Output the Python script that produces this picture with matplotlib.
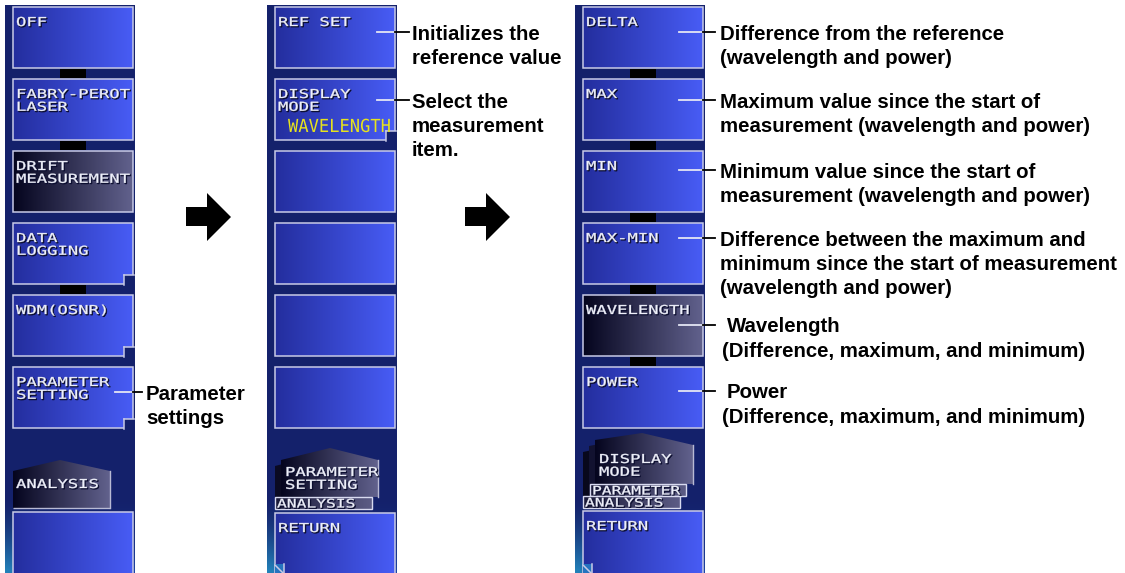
import numpy as np
import matplotlib.pyplot as plt
from matplotlib.patches import Rectangle, Polygon, PathPatch
from matplotlib.textpath import TextPath
from matplotlib.font_manager import FontProperties
from matplotlib.transforms import Affine2D

# soft keys of the three menu screens (top to bottom)
left_keys = ["OFF", "FABRY-PEROT\nLASER", "DRIFT\nMEASUREMENT", "DATA\nLOGGING", "WDM(OSNR)", "PARAMETER\nSETTING"]
mid_keys = ["REF SET", "DISPLAY\nMODE", "", "", "", ""]
right_keys = ["DELTA", "MAX", "MIN", "MAX-MIN", "WAVELENGTH", "POWER"]
mid_value = "WAVELENGTH"          # yellow value shown on the DISPLAY MODE key

# bottom of each screen
left_tabs = ["ANALYSIS"]
mid_tabs = ["PARAMETER\nSETTING", "ANALYSIS"]
right_tabs = ["DISPLAY\nMODE", "PARAMETER", "ANALYSIS"]
return_key = "RETURN"

# explanations: key index -> text lines
left_notes = {5: ["Parameter", "settings"]}
mid_notes = {0: ["Initializes the", "reference value"],
             1: ["Select the", "measurement", "item."]}
right_notes = {0: ["Difference from the reference", "(wavelength and power)"],
               1: ["Maximum value since the start of", "measurement (wavelength and power)"],
               2: ["Minimum value since the start of", "measurement (wavelength and power)"],
               3: ["Difference between the maximum and",
                   "minimum since the start of measurement",
                   "(wavelength and power)"],
               4: ["Wavelength", "(Difference, maximum, and minimum)"],
               5: ["Power", "(Difference, maximum, and minimum)"]}

# ---- layout / style ----
PANEL_X = [5, 267, 575]
PANEL_W = 130
KEY_DX, KEY_W, KEY_H = 8, 120, 61
KEY_TOP0, KEY_PITCH = 7, 72
NAVY = (0.08, 0.13, 0.42)
BLUE_L, BLUE_R = (0.14, 0.18, 0.62), (0.28, 0.36, 0.96)
DARK_L, DARK_R = (0.02, 0.02, 0.12), (0.38, 0.38, 0.55)
EDGE = "#c8cae6"
MONO = FontProperties(family="DejaVu Sans Mono")
NOTE_FONT = dict(family=["Liberation Sans", "DejaVu Sans"], fontsize=14.7, fontweight="bold", color="black")


def gradient(ax, x0, y0, x1, y1, c0, c1, clip=None, z=2):
    t = np.linspace(0, 1, 64)[:, None]
    img = ((1 - t) * np.array(c0) + t * np.array(c1))[None, :, :]
    im = ax.imshow(img, extent=(x0, x1, y1, y0), aspect="auto", interpolation="bilinear", zorder=z)
    if clip is not None:
        ax.add_patch(clip)
        im.set_clip_path(clip)
    return im


def key_text(ax, x, y, s, size=12.3, sx=1.4, color="#eef0fa", shadow=True, z=6, stroke=0.25):
    for i, line in enumerate(s.split("\n")):
        if not line.strip():
            continue
        tp = TextPath((0, 0), line, size=size, prop=MONO)
        path = Affine2D().scale(sx, -1).translate(x, y + i * 12.8).transform_path(tp)
        if shadow:
            sh = Affine2D().translate(1, 1).transform_path(path)
            ax.add_patch(PathPatch(sh, fc="#0c0e30", ec="#0c0e30", lw=0.6, zorder=z))
        ax.add_patch(PathPatch(path, fc=color, ec=color, lw=stroke, zorder=z + 0.1))


def panel(ax, px):
    h, w = 120, 40
    yy = np.linspace(5, 573, h)[:, None]
    xx = np.linspace(0, 1, w)[None, :]
    glow = np.clip((yy - 500) / 73, 0, 1) ** 1.5
    corner = glow * np.clip(1 - xx * 1.6, 0, 1)
    img = np.zeros((h, w, 3))
    for k in range(3):
        img[:, :, k] = NAVY[k] + glow * ((0.12, 0.30, 0.70)[k] - NAVY[k]) * 0.8 \
            + corner * ((0.15, 0.60, 0.80)[k] - (0.12, 0.30, 0.70)[k]) * 0.8
    ax.imshow(np.clip(img, 0, 1), extent=(px, px + PANEL_W, 573, 5), aspect="auto",
              interpolation="bilinear", zorder=1)


def keys(ax, px, labels, dark=(), links=(), notches=()):
    x0 = px + KEY_DX
    for i, lab in enumerate(labels):
        top = KEY_TOP0 + i * KEY_PITCH
        c0, c1 = (DARK_L, DARK_R) if i in dark else (BLUE_L, BLUE_R)
        gradient(ax, x0, top, x0 + KEY_W, top + KEY_H, c0, c1)
        ax.add_patch(Rectangle((x0, top), KEY_W, KEY_H, fc="none", ec=EDGE, lw=1.1, zorder=3))
        if i in notches:
            nx, ny = x0 + KEY_W - 9, top + KEY_H - 9
            ax.add_patch(Rectangle((nx, ny), 10, 10, fc=NAVY, ec="none", zorder=3.5))
            ax.plot([nx, nx, nx], [top + KEY_H + 0.5, ny, ny], color=EDGE, lw=1.1, zorder=3.6)
            ax.plot([nx, x0 + KEY_W + 0.5], [ny, ny], color=EDGE, lw=1.1, zorder=3.6)
        key_text(ax, x0 + 3, top + 19, lab)
        if i + 1 < len(labels) and i in links:
            cx = x0 + KEY_W / 2
            ax.add_patch(Rectangle((cx - 13, top + KEY_H + 0.6), 26, KEY_PITCH - KEY_H - 1.2,
                                   fc="black", ec="none", zorder=3))


def tab(ax, pts, label, lx, ly, z=3):
    poly = Polygon(pts, closed=True, fc="none", ec="none")
    xs, ys = zip(*pts)
    gradient(ax, min(xs), min(ys), max(xs), max(ys), DARK_L, DARK_R, clip=poly, z=z)
    r = max(xs)
    ax.plot([r, r], [pts[2][1], pts[3][1]], color="#b8bad4", lw=1.0, zorder=z + 0.1)
    key_text(ax, lx, ly, label, z=z + 0.5)


def strip(ax, x0, y0, x1, y1, label, z=4):
    gradient(ax, x0, y0, x1, y1, (0.10, 0.10, 0.22), (0.36, 0.36, 0.52), z=z)
    ax.add_patch(Rectangle((x0, y0), x1 - x0, y1 - y0, fc="none", ec="#d8daf0", lw=1.0, zorder=z + 0.1))
    key_text(ax, x0 + 2, y1 - 1.5, label, size=11.8, sx=1.38, z=z + 0.5)


def return_button(ax, px, top):
    x0 = px + KEY_DX
    gradient(ax, x0, top, x0 + KEY_W, 574, BLUE_L, BLUE_R)
    ax.add_patch(Rectangle((x0, top), KEY_W, 574 - top, fc="none", ec=EDGE, lw=1.1, zorder=3))
    ax.add_patch(Polygon([(x0 - 0.5, 564), (x0 + 9, 564), (x0 + 9, 574), (x0 - 0.5, 574)],
                         fc=(0.15, 0.45, 0.75), ec="none", zorder=3.5))
    ax.plot([x0 + 9, x0 + 9], [564, 574], color=EDGE, lw=1.1, zorder=3.6)
    ax.plot([x0, x0 + 9], [565, 574], color=EDGE, lw=1.1, zorder=3.6)
    key_text(ax, x0 + 3, top + 19, return_key)


def notes(ax, px, note_map, line_y, x_end, text_x, text_x2=None):
    key_r = px + KEY_DX + KEY_W
    for n, (i, lines) in enumerate(note_map.items()):
        y = line_y[n]
        ax.plot([x_end[0], key_r], [y, y], color="#e4e6f4", lw=1.3, zorder=7)
        ax.plot([key_r, x_end[1]], [y, y], color="black", lw=1.3, zorder=7)
        for k, s in enumerate(lines):
            tx = text_x[n] if k == 0 else (text_x2[n] if text_x2 else text_x[n])
            ax.text(tx, y + 7.5 + k * 24.5, s, va="baseline", ha="left", zorder=8, **NOTE_FONT)


def arrow(ax, tip_x, tip_y):
    pts = [(tip_x - 45, tip_y - 10), (tip_x - 24, tip_y - 10), (tip_x - 24, tip_y - 24),
           (tip_x, tip_y), (tip_x - 24, tip_y + 24), (tip_x - 24, tip_y + 9), (tip_x - 45, tip_y + 9)]
    ax.add_patch(Polygon(pts, closed=True, fc="black", ec="none", zorder=5))


fig = plt.figure(figsize=(11.25, 5.73), dpi=100)
ax = fig.add_axes([0, 0, 1, 1])

# screen 1
px = PANEL_X[0]
panel(ax, px)
keys(ax, px, left_keys, dark=(2,), links=(0, 1, 3), notches=(3, 4, 5))
tab(ax, [(13, 471), (60, 460), (110, 471), (110, 508), (13, 508)], left_tabs[0], 16, 488)
ax.add_patch(Rectangle((13, 508), 97, 0.1, ec="#b8bad4", lw=1.0, zorder=3.2))
gradient(ax, 13, 512, 133, 574, BLUE_L, BLUE_R)
ax.add_patch(Rectangle((13, 512), 120, 62, fc="none", ec=EDGE, lw=1.1, zorder=3))
notes(ax, px, left_notes, [392], (115, 142), [146])

# screen 2
px = PANEL_X[1]
panel(ax, px)
keys(ax, px, mid_keys, notches=(1,))
key_text(ax, 288, 132, mid_value, size=18, sx=0.95, color="#e6e21e", shadow=False, stroke=0)
ax.add_patch(Polygon([(275, 466), (326, 453), (372, 463), (372, 497), (275, 497)],
                     fc="#0a0a22", ec="none", zorder=2.9))
tab(ax, [(281, 460), (330, 448), (378, 460), (378, 497), (281, 497)], mid_tabs[0], 285, 476)
strip(ax, 275, 497, 372, 509, mid_tabs[1])
return_button(ax, px, 513)
notes(ax, px, mid_notes, [32, 100], (377, 409), [412, 412])

# screen 3
px = PANEL_X[2]
panel(ax, px)
keys(ax, px, right_keys, dark=(4,), links=(0, 1, 2, 3, 4))
ax.add_patch(Polygon([(583, 452), (630, 442), (680, 453), (680, 508), (583, 508)],
                     fc="#08081c", ec="none", zorder=2.8))
ax.add_patch(Polygon([(589, 446), (636, 437), (686, 449), (686, 496), (589, 496)],
                     fc="#121230", ec="none", zorder=2.9))
tab(ax, [(595, 440), (642, 433), (693, 445), (693, 484), (595, 484)], right_tabs[0], 599, 463)
strip(ax, 590, 484, 686, 496, right_tabs[1])
strip(ax, 583, 496, 680, 508, right_tabs[2], z=4.5)
return_button(ax, px, 511)
notes(ax, px, right_notes, [32, 100, 170, 238, 325, 391], (679, 715),
      [720, 720, 720, 720, 727, 727], [720, 720, 720, 720, 722, 722])

arrow(ax, 231, 217)
arrow(ax, 510, 217)

ax.set_xlim(0, 1125)
ax.set_ylim(573, 0)
ax.axis("off")
fig.savefig("out.png", dpi=100, facecolor="white")
